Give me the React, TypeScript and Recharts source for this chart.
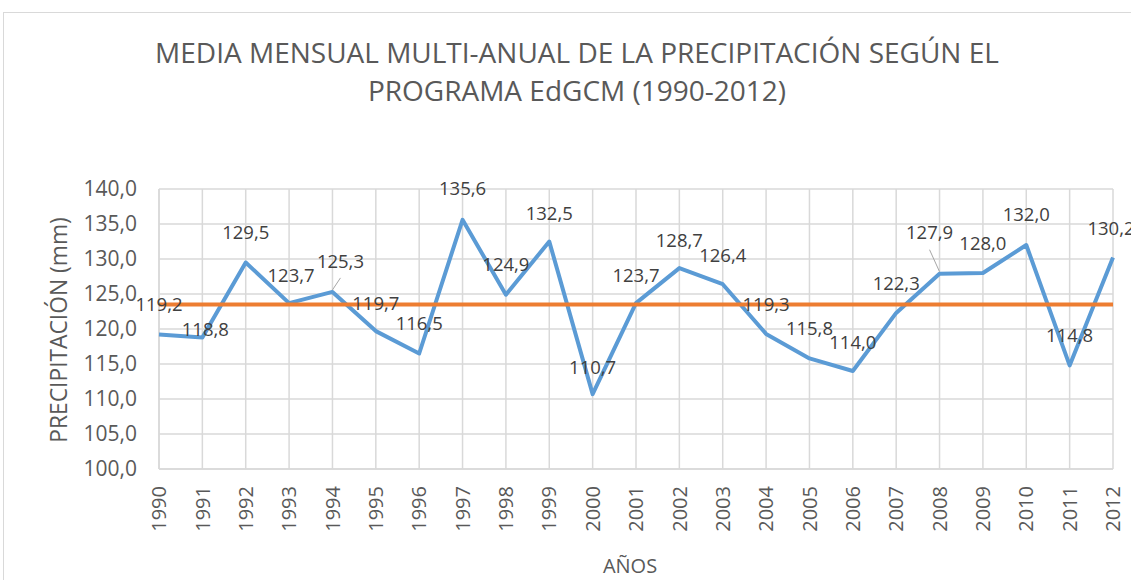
import React from 'react';
import { LineChart, Line, XAxis, YAxis, CartesianGrid, ReferenceLine, LabelList } from 'recharts';

const years = ['1990', '1991', '1992', '1993', '1994', '1995', '1996', '1997', '1998', '1999', '2000', '2001',
    '2002', '2003', '2004', '2005', '2006', '2007', '2008', '2009', '2010', '2011', '2012'];
const precipitacion = [119.2, 118.8, 129.5, 123.7, 125.3, 119.7, 116.5, 135.6, 124.9, 132.5, 110.7, 123.7,
    128.7, 126.4, 119.3, 115.8, 114.0, 122.3, 127.9, 128.0, 132.0, 114.8, 130.2];
const media = 123.5;
const yTicks = [100, 105, 110, 115, 120, 125, 130, 135, 140];

// label placement tweaks (Excel moved a few by hand)
const labelDx = [0, 3, 0, 2, 8, 0, 0, 0, 0, 0, 0, 0, 0, 0, 0, 0, 0, 0, -10, 0, 0, 0, -2];
const labelDy = [-30, -8, -30, -28, -31, -28, -30, -31, -30, -28, -27, -28, -28, -29, -30, -30, -29, -30, -41, -30, -31, -30, -29];
const leader = [4, 18];

const data = years.map((year, i) => ({ year, valor: precipitacion[i] }));

const fmt = (v: number) => v.toFixed(1).replace('.', ',');

const FONT = '"Open Sans", sans-serif';

const YearTick = (props: any) => {
    const { x, y, payload } = props;
    return (
        <g transform={`translate(${x},${y})`}>
            <text transform="rotate(-90)" textAnchor="end" dy="0.36em" fontSize={20} fill="#595959" fontFamily={FONT}>
                {payload.value}
            </text>
        </g>
    );
};

const ValueLabel = (props: any) => {
    const { x, y, value, index } = props;
    const dx = labelDx[index] || 0;
    const dy = labelDy[index] || -30;
    return (
        <g>
            {leader.includes(index) && (
                <line x1={x} y1={y - 2} x2={x + dx} y2={y + dy + 17} stroke="#a6a6a6" strokeWidth={1} />
            )}
            <text x={x + dx} y={y + dy} dy="0.36em" textAnchor="middle" fontSize={18.5} fill="#404040" fontFamily={FONT}>
                {fmt(value)}
            </text>
        </g>
    );
};

export default function App() {
    return (
        <div style={{ position: 'absolute', left: 0, top: 0, width: 1131, height: 580, overflow: 'hidden', background: '#fff', fontFamily: FONT }}>
            <div style={{ position: 'absolute', left: 3, top: 12, width: 1200, height: 700, border: '1px solid #d9d9d9' }} />
            <div style={{ position: 'absolute', left: 0, top: 33, width: 1154, textAlign: 'center', fontSize: 28, lineHeight: '38.4px', color: '#595959' }}>
                MEDIA MENSUAL MULTI-ANUAL DE LA PRECIPITACIÓN SEGÚN EL<br />PROGRAMA EdGCM (1990-2012)
            </div>
            <div style={{ position: 'absolute', left: 58, top: 330, transform: 'translate(-50%, -50%) rotate(-90deg)', whiteSpace: 'nowrap', fontSize: 22.8, color: '#595959' }}>
                PRECIPITACIÓN (mm)
            </div>
            <div style={{ position: 'absolute', left: 630, top: 566, transform: 'translate(-50%, -50%)', whiteSpace: 'nowrap', fontSize: 20, lineHeight: '24px', color: '#595959' }}>
                AÑOS
            </div>
            <div style={{ position: 'absolute', left: 0, top: 0 }}>
                <LineChart width={1131} height={580} data={data} margin={{ top: 189, right: 18, bottom: 0, left: 0 }}>
                    <CartesianGrid stroke="#d9d9d9" strokeWidth={1.5} />
                    <XAxis dataKey="year" height={111} interval={0} tick={<YearTick />} tickLine={false} tickSize={0} tickMargin={17}
                        axisLine={{ stroke: '#d9d9d9', strokeWidth: 1.5 }} />
                    <YAxis width={159} domain={[100, 140]} ticks={yTicks} tickFormatter={fmt} axisLine={false} tickLine={false}
                        tickSize={0} tickMargin={22} tick={{ fontSize: 21, fill: '#595959', fontFamily: FONT }} />
                    <Line type="linear" dataKey="valor" stroke="#5b9bd5" strokeWidth={4} dot={false} strokeLinejoin="round"
                        isAnimationActive={false} />
                    <ReferenceLine y={media} stroke="#ed7d31" strokeWidth={4} />
                    <Line type="linear" dataKey="valor" stroke="none" dot={false} isAnimationActive={false} legendType="none">
                        <LabelList dataKey="valor" content={<ValueLabel />} />
                    </Line>
                </LineChart>
            </div>
        </div>
    );
}
